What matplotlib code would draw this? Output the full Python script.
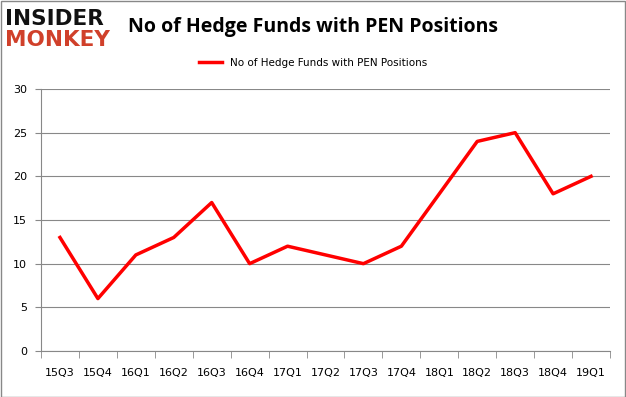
import numpy as np
import matplotlib.pyplot as plt

quarters = ['15Q3', '15Q4', '16Q1', '16Q2', '16Q3', '16Q4', '17Q1', '17Q2',
            '17Q3', '17Q4', '18Q1', '18Q2', '18Q3', '18Q4', '19Q1']
funds = [13, 6, 11, 13, 17, 10, 12, 11, 10, 12, 18, 24, 25, 18, 20]
series_name = 'No of Hedge Funds with PEN Positions'

fig = plt.figure(figsize=(6.26, 3.97), dpi=100)
ax = fig.add_axes([41/626, 1-351/397, (610-41)/626, (351-89)/397])

x = np.arange(len(quarters))
ax.plot(x, funds, color='#ff0000', lw=2.5, label=series_name)

ax.set_xlim(-0.5, len(quarters) - 0.5)
ax.set_ylim(0, 30)
ax.set_yticks(range(0, 31, 5))
ax.set_xticks(x)
ax.set_xticklabels(quarters)
ax.set_xticks(np.arange(-0.5, len(quarters)), minor=True)
ax.tick_params(axis='x', which='major', length=0, pad=12, labelsize=8)
ax.tick_params(axis='x', which='minor', length=5, color='#888888')
ax.tick_params(axis='y', length=4, color='#888888', labelsize=8, pad=6)
ax.grid(axis='y', color='#888888', lw=0.8)
ax.set_axisbelow(True)
for s in ['top', 'right']:
    ax.spines[s].set_visible(False)
ax.spines['left'].set_color('#888888')
ax.spines['bottom'].set_color('#888888')

fig.text(313/626, 1 - 27/397, 'No of Hedge Funds with PEN Positions',
         ha='center', va='center', fontsize=14, fontweight='bold',
         family='Open Sans')
leg = fig.legend(loc='center', bbox_to_anchor=(313/626, 1 - 63/397),
                 frameon=False, fontsize=7.5, handlelength=2.2)

# logo
fig.text(5/626, 1 - 19/397, 'INSIDER', fontsize=15.5, fontweight='heavy',
         color='#111111', va='center', family='DejaVu Sans')
fig.text(5/626, 1 - 40/397, 'MONKEY', fontsize=15.5, fontweight='heavy',
         color='#d0402a', va='center', family='DejaVu Sans')

fig.patches.append(plt.Rectangle((0.001, 0.001), 0.997, 0.997, transform=fig.transFigure,
                                 fill=False, edgecolor='#888888', lw=1))

fig.savefig('out.png', dpi=100)
